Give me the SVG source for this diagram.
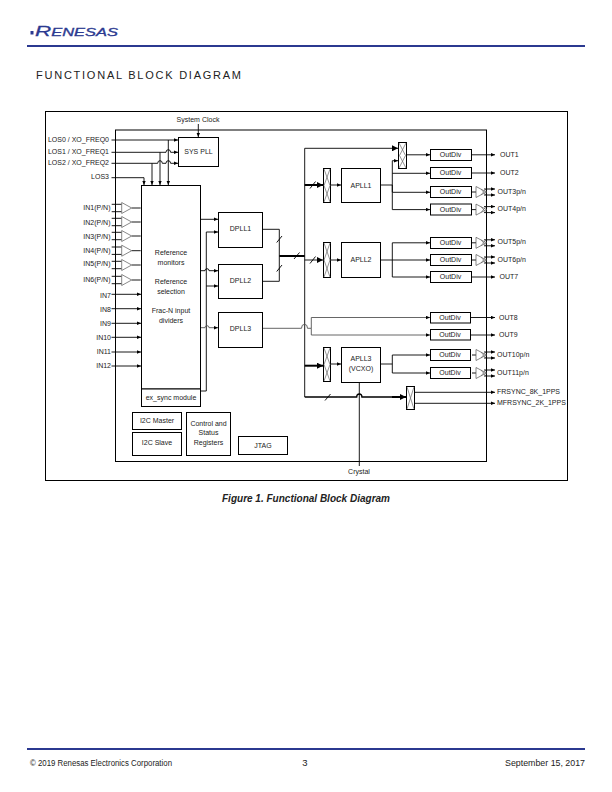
<svg xmlns="http://www.w3.org/2000/svg" width="612" height="792" viewBox="0 0 612 792">
  <style>
    text { font-family: "Liberation Sans", Arial, sans-serif; fill: #222; }
    .l { font-size: 7px; }
    .e { text-anchor: end; }
    .m { text-anchor: middle; }
    .box { fill: #fff; stroke: #000; stroke-width: 1; }
    .frame { fill: none; stroke: #000; stroke-width: 1; }
    .w { fill: none; stroke: #000; stroke-width: 0.9; }
    .a { marker-end: url(#tip); }
    .thick { fill: none; stroke: #000; stroke-width: 2; }
    .big { marker-end: url(#bigtip); }
    .g { fill: none; stroke: #555; stroke-width: 0.9; }
    .x { fill: none; stroke: #666; stroke-width: 0.7; }
    .buf { fill: #fff; stroke: #555; stroke-width: 0.7; }
    .rule { stroke: #2b3990; stroke-width: 2; }
  </style>
  <defs>
    <marker id="tip" markerUnits="userSpaceOnUse" markerWidth="4" markerHeight="4" refX="4" refY="2" orient="auto">
      <path d="M0 0.3L4 2L0 3.7z" fill="#000"/>
    </marker>
    <marker id="bigtip" markerUnits="userSpaceOnUse" markerWidth="6" markerHeight="6" refX="6" refY="3" orient="auto">
      <path d="M0 0L6 3L0 6z" fill="#000"/>
    </marker>
    <g id="buffer-in">
      <path class="w" d="M-10 -3.7H0M-10 3.7H0M10 0H19" />
      <path class="buf" d="M0 -5.5L10 0L0 5.5z"/>
    </g>
    <g id="buffer-out">
      <path class="w" d="M-5 0H-1"/>
      <path class="buf" d="M-1 -5.5L9.5 0L-1 5.5z"/>
      <path class="x" d="M4 -3L9 3M4 3L9 -3"/>
      <path class="w a" d="M7 -3H18"/>
      <path class="w a" d="M7 3H18"/>
    </g>
  </defs>

  <g id="page-header">
    <rect x="30.500" y="31" width="3" height="3.500" fill="#2b3990"/>
    <text x="35" y="35.500" font-size="11" style="fill:#2b3990;stroke:#2b3990;stroke-width:0.300" textLength="83" lengthAdjust="spacingAndGlyphs" font-style="italic"><tspan font-size="15">R</tspan>ENESAS</text>
    <line class="rule" x1="27" y1="46" x2="585" y2="46"/>
    <text x="36" y="79" font-size="11" textLength="205">FUNCTIONAL BLOCK DIAGRAM</text>
  </g>

  <rect id="outer-frame" class="frame" x="45.5" y="111.5" width="522" height="369"/>
  <rect id="chip-boundary" class="frame" x="115.5" y="130" width="371" height="331.5"/>

  <g id="connectors">
    <!-- clock and status inputs -->
    <path class="w a" d="M198.3 124V137"/>
    <path class="w a" d="M111.5 140H178"/>
    <path class="w a" d="M168.3 140V185"/>
    <path class="w a" d="M111.5 152.3H166a2.3 2.6 0 0 1 4.6 0H178"/>
    <path class="w a" d="M160 152.3V185"/>
    <path class="w a" d="M111.5 163.3H157.7a2.3 2.6 0 0 1 4.6 0H166a2.3 2.6 0 0 1 4.6 0H178"/>
    <path class="w a" d="M152 163.3V185"/>
    <path class="w a" d="M111.5 177.7H144V185"/>
    <!-- single-ended reference inputs -->
    <path class="w a" d="M111.5 294.3H141"/>
    <path class="w a" d="M111.5 308.7H141"/>
    <path class="w a" d="M111.5 323.3H141"/>
    <path class="w a" d="M111.5 337.3H141"/>
    <path class="w a" d="M111.5 352H141"/>
    <path class="w a" d="M111.5 366H141"/>
    <!-- reference block to DPLLs -->
    <path class="w a" d="M201 219.3H218"/>
    <path class="w a" d="M201 391H206.3V232H218"/>
    <path class="w a" d="M201 270.7H205a2 2 0 0 1 4 0H218"/>
    <path class="w a" d="M206.3 286H218"/>
    <path class="g a" d="M201 327.7H205a2 2 0 0 1 4 0H218"/>
    <!-- DPLL outputs onto the bus -->
    <path class="w" d="M262.5 229.3H279.3V256"/>
    <path class="w" d="M262.5 281.3H279.3V256"/>
    <path class="thick" d="M279.3 256H304.7"/>
    <path class="w" d="M304.7 148.3V397"/>
    <path class="w" d="M276.7 242.5L282 236M276.7 271.5L282 265M294 259L299.5 252.5"/>
    <path class="w" style="stroke-width:1.3" d="M304.7 397H356.7a2.6 3 0 0 1 5.2 0H406"/>
    <path class="w" d="M325 400.5L330.5 394"/>
    <path class="thick big" d="M392 397H406"/>
    <path class="w big" d="M304.7 148.3H398"/>
    <path class="thick big" d="M304.7 185H323"/>
    <path class="w big" d="M304.7 260H323"/>
    <path class="thick big" d="M304.7 365.7H323"/>
    <path class="w" d="M310 188.5L315.5 181.5M310 263.5L315.5 256.5"/>
    <!-- DPLL3 bypass to OUT8 and OUT9 -->
    <path class="g" d="M262.5 328.3H301.5a3 4 0 0 1 6 0H311.3"/>
    <path class="g a" d="M311.3 328.3V317.5H430"/>
    <path class="g a" d="M311.3 328.3V335H430"/>
    <!-- APLL links -->
    <path class="w a" d="M331 185H341"/>
    <path class="w a" d="M331 260H341"/>
    <path class="w a" d="M331 364H341"/>
    <path class="w" d="M381 185H392.3M381 260H392.3M381 364H392.3"/>
    <path class="w a" d="M392.3 192.3V160.7H398"/>
    <path class="w a" d="M392.3 173.3H430"/>
    <path class="w a" d="M392.3 185V192.3H430"/>
    <path class="w a" d="M392.3 192.3V209.6H430"/>
    <path class="w a" d="M392.3 260V242.8H430"/>
    <path class="w a" d="M392.3 260H430"/>
    <path class="w a" d="M392.3 260V277H430"/>
    <path class="w a" d="M392.3 364V355H430"/>
    <path class="w a" d="M392.3 364V373H430"/>
    <path class="w a" d="M406.5 154.8H430"/>
    <!-- crystal feed -->
    <path class="w" d="M359.3 382.5V466"/>
    <!-- single-ended outputs -->
    <path class="w a" d="M471 154.8H495"/>
    <path class="w a" d="M471 173H495"/>
    <path class="w a" d="M471 277H495"/>
    <path class="w a" d="M471 317.5H495"/>
    <path class="w a" d="M471 335H495"/>
    <path class="w a" d="M414.5 392.3H495"/>
    <path class="w a" d="M414.5 403.3H495"/>
  </g>

  <g id="input-buffers">
    <use href="#buffer-in" x="121.7" y="208"/>
    <use href="#buffer-in" x="121.7" y="222"/>
    <use href="#buffer-in" x="121.7" y="236"/>
    <use href="#buffer-in" x="121.7" y="250.7"/>
    <use href="#buffer-in" x="121.7" y="265"/>
    <use href="#buffer-in" x="121.7" y="280"/>
  </g>

  <g id="output-buffers">
    <use href="#buffer-out" x="477" y="192"/>
    <use href="#buffer-out" x="477" y="209.6"/>
    <use href="#buffer-out" x="477" y="242.8"/>
    <use href="#buffer-out" x="477" y="260"/>
    <use href="#buffer-out" x="477" y="355"/>
    <use href="#buffer-out" x="477" y="373"/>
  </g>

  <g id="input-labels">
    <text class="l m" x="198" y="122">System Clock</text>
    <text class="l e" x="109" y="142">LOS0 / XO_FREQ0</text>
    <text class="l e" x="109" y="153.5">LOS1 / XO_FREQ1</text>
    <text class="l e" x="109" y="164.5">LOS2 / XO_FREQ2</text>
    <text class="l e" x="109" y="179">LOS3</text>
    <text class="l e" x="110.5" y="210">IN1(P/N)</text>
    <text class="l e" x="110.5" y="224.5">IN2(P/N)</text>
    <text class="l e" x="110.5" y="238.5">IN3(P/N)</text>
    <text class="l e" x="110.5" y="253">IN4(P/N)</text>
    <text class="l e" x="110.5" y="266">IN5(P/N)</text>
    <text class="l e" x="110.5" y="282">IN6(P/N)</text>
    <text class="l e" x="111" y="297.5">IN7</text>
    <text class="l e" x="111" y="311.5">IN8</text>
    <text class="l e" x="111" y="325.5">IN9</text>
    <text class="l e" x="111" y="339.5">IN10</text>
    <text class="l e" x="111" y="354">IN11</text>
    <text class="l e" x="111" y="368">IN12</text>
    <text class="l m" x="359" y="474">Crystal</text>
  </g>

  <g id="sys-pll">
    <rect class="box" x="178.5" y="137.5" width="40" height="29"/>
    <text class="l m" x="198.5" y="154">SYS PLL</text>
  </g>

  <g id="reference-block">
    <rect class="box" x="141.5" y="185.5" width="59" height="203.5"/>
    <text class="l m" x="171" y="255">Reference</text>
    <text class="l m" x="171" y="265">monitors</text>
    <text class="l m" x="171" y="284">Reference</text>
    <text class="l m" x="171" y="294">selection</text>
    <text class="l m" x="171" y="313">Frac-N input</text>
    <text class="l m" x="171" y="323">dividers</text>
  </g>
  <g id="ex-sync">
    <rect class="box" x="141.5" y="389" width="59" height="17.5"/>
    <text class="l m" x="171" y="400">ex_sync module</text>
  </g>

  <g id="dpll1"><rect class="box" x="218.5" y="212.5" width="44" height="35"/><text class="l m" x="240.5" y="231">DPLL1</text></g>
  <g id="dpll2"><rect class="box" x="218.5" y="264.5" width="44" height="34"/><text class="l m" x="240.5" y="282.5">DPLL2</text></g>
  <g id="dpll3"><rect class="box" x="218.5" y="312.5" width="44" height="35"/><text class="l m" x="240.5" y="331">DPLL3</text></g>

  <g id="mux-out1"><rect class="box" x="398.5" y="142.5" width="8" height="26"/><path class="x" d="M399 143L405.5 155.5L399 168M406 143L399.5 155.5L406 168"/></g>
  <g id="mux-apll1"><rect class="box" x="323.5" y="168.5" width="7" height="34"/><path class="x" d="M324 169L330 185.5L324 202M330 169L324 185.5L330 202"/></g>
  <g id="mux-apll2"><rect class="box" x="323.5" y="242.5" width="7" height="35"/><path class="x" d="M324 243L330 260L324 277M330 243L324 260L330 277"/></g>
  <g id="mux-apll3"><rect class="box" x="323.5" y="347.5" width="7" height="34"/><path class="x" d="M324 348L330 364.5L324 381M330 348L324 364.5L330 381"/></g>
  <g id="mux-sync"><rect class="box" x="406.5" y="386.5" width="8" height="23"/><path class="x" d="M407 387L414 409M414 387L407 409"/></g>

  <g id="apll1"><rect class="box" x="341.5" y="168.5" width="39" height="34"/><text class="l m" x="361" y="187.5">APLL1</text></g>
  <g id="apll2"><rect class="box" x="341.5" y="242.5" width="39" height="35"/><text class="l m" x="361" y="262">APLL2</text></g>
  <g id="apll3"><rect class="box" x="341.5" y="347.5" width="39" height="35"/><text class="l m" x="361" y="360.5">APLL3</text><text class="l m" x="361" y="371">(VCXO)</text></g>

  <g id="outdiv1"><rect class="box" x="430.5" y="149.5" width="41" height="11"/><text class="l m" x="450.5" y="157">OutDiv</text></g>
  <g id="outdiv2"><rect class="box" x="430.5" y="167.5" width="41" height="11"/><text class="l m" x="450.5" y="175">OutDiv</text></g>
  <g id="outdiv3"><rect class="box" x="430.5" y="186.5" width="41" height="11"/><text class="l m" x="450.5" y="194">OutDiv</text></g>
  <g id="outdiv4"><rect class="box" x="430.5" y="204" width="41" height="11"/><text class="l m" x="450.5" y="211.5">OutDiv</text></g>
  <g id="outdiv5"><rect class="box" x="430.5" y="237.5" width="41" height="11"/><text class="l m" x="450.5" y="244.5">OutDiv</text></g>
  <g id="outdiv6"><rect class="box" x="430.5" y="254.5" width="41" height="11"/><text class="l m" x="450.5" y="262">OutDiv</text></g>
  <g id="outdiv7"><rect class="box" x="430.5" y="271.5" width="41" height="11"/><text class="l m" x="450.5" y="279">OutDiv</text></g>
  <g id="outdiv8"><rect class="box" x="430.5" y="312.5" width="40" height="10.5"/><text class="l m" x="450" y="319.5">OutDiv</text></g>
  <g id="outdiv9"><rect class="box" x="430.5" y="329.5" width="40" height="10.5"/><text class="l m" x="450" y="337">OutDiv</text></g>
  <g id="outdiv10"><rect class="box" x="430.5" y="349.5" width="40" height="11"/><text class="l m" x="450" y="357">OutDiv</text></g>
  <g id="outdiv11"><rect class="box" x="430.5" y="367.5" width="40" height="11"/><text class="l m" x="450" y="375">OutDiv</text></g>

  <g id="output-labels">
    <text class="l" x="500" y="157">OUT1</text>
    <text class="l" x="500" y="175">OUT2</text>
    <text class="l" x="497.5" y="194">OUT3p/n</text>
    <text class="l" x="497.5" y="210.5">OUT4p/n</text>
    <text class="l" x="497.5" y="244">OUT5p/n</text>
    <text class="l" x="497.5" y="262">OUT6p/n</text>
    <text class="l" x="499.5" y="279">OUT7</text>
    <text class="l" x="499" y="319.5">OUT8</text>
    <text class="l" x="499" y="337">OUT9</text>
    <text class="l" x="497" y="357">OUT10p/n</text>
    <text class="l" x="497" y="374.5">OUT11p/n</text>
    <text class="l" x="497" y="394">FRSYNC_8K_1PPS</text>
    <text class="l" x="497" y="405">MFRSYNC_2K_1PPS</text>
  </g>

  <g id="i2c-master"><rect class="box" x="132.5" y="412.5" width="49" height="17"/><text class="l m" x="157" y="422.5">I2C Master</text></g>
  <g id="i2c-slave"><rect class="box" x="132.5" y="432.5" width="49" height="23"/><text class="l m" x="157" y="445">I2C Slave</text></g>
  <g id="control-status">
    <rect class="box" x="186.5" y="412.5" width="44" height="43"/>
    <text class="l m" x="208.5" y="425.5">Control and</text>
    <text class="l m" x="208.5" y="435">Status</text>
    <text class="l m" x="208.5" y="445">Registers</text>
  </g>
  <g id="jtag"><rect class="box" x="238.5" y="436.5" width="49" height="18"/><text class="l m" x="263" y="447.5">JTAG</text></g>

  <text x="306" y="501.5" font-size="10" font-weight="bold" font-style="italic" text-anchor="middle" textLength="168" lengthAdjust="spacingAndGlyphs">Figure 1. Functional Block Diagram</text>

  <g id="page-footer">
    <line class="rule" x1="27" y1="749" x2="585" y2="749"/>
    <text x="30" y="766" font-size="8.5" textLength="142" lengthAdjust="spacingAndGlyphs">© 2019 Renesas Electronics Corporation</text>
    <text x="305" y="766" font-size="9.5" text-anchor="middle">3</text>
    <text x="505" y="766" font-size="9.5" textLength="80" lengthAdjust="spacingAndGlyphs">September 15, 2017</text>
  </g>
</svg>
